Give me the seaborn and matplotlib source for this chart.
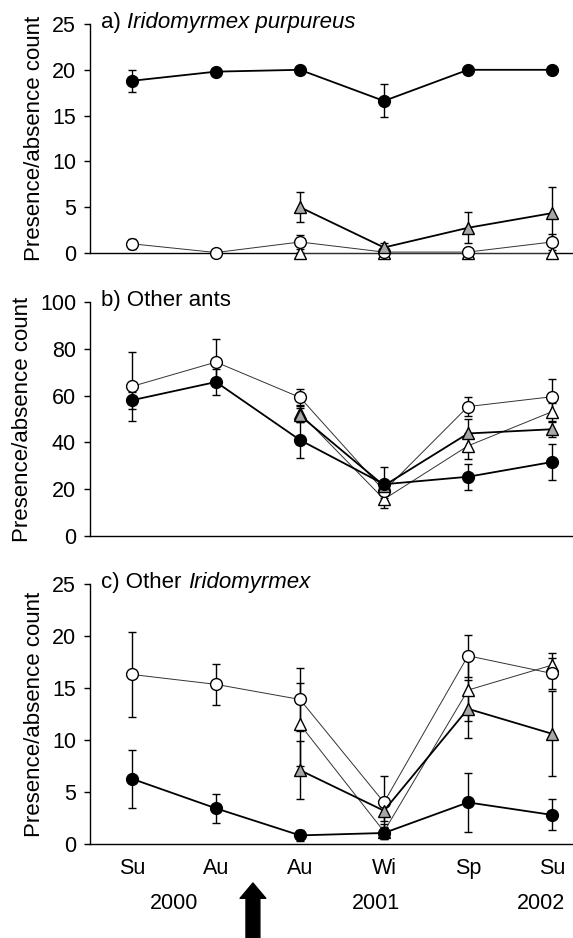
import numpy as np
import pandas as pd
import seaborn as sns
import matplotlib.pyplot as plt
from matplotlib.transforms import blended_transform_factory

sns.set_style("ticks")
plt.rcParams["font.family"] = ["Liberation Sans", "DejaVu Sans"]
plt.rcParams["text.color"] = "black"
plt.rcParams["axes.labelcolor"] = "black"
plt.rcParams["xtick.color"] = "black"
plt.rcParams["ytick.color"] = "black"

# sampling times
seasons = ["Su", "Au", "Au", "Wi", "Sp", "Su"]
times = [1, 2, 3, 4, 5, 6]
years = ["2000", "2001", "2002"]
year_pos = [1.5, 3.9, 5.87]
nan = np.nan

# a) Iridomyrmex purpureus
a_fc = [18.8, 19.8, 20.0, 16.6, 20.0, 20.0]
a_fc_se = [1.2, 0.0, 0.0, 1.8, 0.0, 0.0]
a_oc = [1.0, 0.05, 1.2, 0.1, 0.1, 1.2]
a_oc_se = [0.55, 0.0, 0.8, 0.1, 0.1, 0.85]
a_gt = [nan, nan, 5.0, 0.6, 2.75, 4.35]
a_gt_se = [nan, nan, 1.65, 0.5, 1.7, 2.85]
a_ot = [nan, nan, 0.0, 0.0, 0.0, 0.0]
a_ot_se = [nan, nan, 0.0, 0.0, 0.0, 0.0]

# b) Other ants
b_fc = [58.0, 65.8, 41.0, 22.1, 25.3, 31.6]
b_fc_se = [3.7, 5.5, 7.8, 7.3, 5.5, 7.5]
b_oc = [63.9, 74.3, 59.2, 19.3, 55.3, 59.5]
b_oc_se = [14.8, 10.0, 3.7, 3.0, 4.2, 7.6]
b_gt = [nan, nan, 51.5, 21.5, 43.8, 45.6]
b_gt_se = [nan, nan, 3.0, 2.0, 6.0, 3.2]
b_ot = [nan, nan, 52.5, 15.7, 38.5, 53.1]
b_ot_se = [nan, nan, 3.5, 3.9, 5.6, 3.9]

# c) Other Iridomyrmex
c_fc = [6.27, 3.43, 0.83, 1.06, 4.0, 2.8]
c_fc_se = [2.8, 1.4, 0.5, 0.6, 2.8, 1.5]
c_oc = [16.3, 15.35, 13.9, 4.0, 18.1, 16.4]
c_oc_se = [4.05, 2.0, 3.0, 2.5, 2.0, 1.5]
c_gt = [nan, nan, 7.1, 3.2, 13.0, 10.6]
c_gt_se = [nan, nan, 2.8, 1.0, 2.8, 4.1]
c_ot = [nan, nan, 11.5, 1.2, 14.8, 17.2]
c_ot_se = [nan, nan, 4.0, 0.7, 3.0, 1.2]

panels = [
    ("a) ", "Iridomyrmex purpureus", 25, 5,
     [a_ot, a_oc, a_gt, a_fc], [a_ot_se, a_oc_se, a_gt_se, a_fc_se]),
    ("b) Other ants", "", 100, 20,
     [b_ot, b_oc, b_gt, b_fc], [b_ot_se, b_oc_se, b_gt_se, b_fc_se]),
    ("c) Other ", "Iridomyrmex", 25, 5,
     [c_ot, c_oc, c_gt, c_fc], [c_ot_se, c_oc_se, c_gt_se, c_fc_se]),
]

# open triangle, open circle, grey triangle, filled circle
styles = [
    dict(marker="^", mfc="white", lw=0.7, lc="#333333", ms=9),
    dict(marker="o", mfc="white", lw=0.7, lc="#333333", ms=8.5),
    dict(marker="^", mfc="#a8a8a8", lw=1.3, lc="black", ms=9),
    dict(marker="o", mfc="black", lw=1.3, lc="black", ms=8.5),
]

fig = plt.figure(figsize=(5.73, 9.38), dpi=100)
boxes = [[0.157, 0.7303, 0.843, 0.2441],
         [0.157, 0.4286, 0.843, 0.2495],
         [0.157, 0.1002, 0.843, 0.2772]]

for box, (lab, ital, ymax, step, series, errs) in zip(boxes, panels):
    ax = fig.add_axes(box)
    for vals, se, st in zip(series, errs, styles):
        df = pd.DataFrame({"time": times, "count": vals, "se": se}).dropna()
        ax.errorbar(df["time"], df["count"], yerr=df["se"], fmt="none",
                    ecolor="black", elinewidth=1.0, capsize=3.2, capthick=1.0,
                    zorder=2, clip_on=False)
        sns.lineplot(data=df, x="time", y="count", ax=ax, estimator=None,
                     errorbar=None, color=st["lc"], linewidth=st["lw"],
                     marker=st["marker"], markersize=st["ms"],
                     markerfacecolor=st["mfc"], markeredgecolor="black",
                     markeredgewidth=1.0, zorder=3, clip_on=False)
    ax.set_xlim(0.5, 6.25)
    ax.set_ylim(0, ymax)
    ax.set_yticks(np.arange(0, ymax + 1, step))
    ax.set_xticks(times)
    ax.set_xlabel("")
    ax.set_ylabel("Presence/absence count", fontsize=16, labelpad=5)
    ax.tick_params(axis="y", length=4, width=1, pad=6, labelsize=15.5)
    ax.tick_params(axis="x", length=0, pad=10, labelsize=15.5)
    for s in ["top", "right"]:
        ax.spines[s].set_visible(False)
    for s in ["left", "bottom"]:
        ax.spines[s].set_linewidth(1.0)
        ax.spines[s].set_color("black")
    t = ax.text(0.0235, 1.005, lab, transform=ax.transAxes, fontsize=16,
                ha="left", va="center")
    if ital:
        fig.canvas.draw()
        bb = t.get_window_extent()
        x1 = ax.transAxes.inverted().transform((bb.x1, bb.y0))[0]
        ax.text(x1, 1.005, ital, transform=ax.transAxes, fontsize=16,
                style="italic", ha="left", va="center")
    last = ax

last.set_xticklabels(seasons)
trans = blended_transform_factory(last.transData, fig.transFigure)
for yr, xp in zip(years, year_pos):
    last.text(xp, 1 - 903 / 938, yr, transform=trans, fontsize=15.5,
              ha="center", va="center")
last.annotate("", xy=(2.44, 1 - 883 / 938), xytext=(2.44, -0.01),
              xycoords=trans, textcoords=trans, annotation_clip=False,
              arrowprops=dict(facecolor="black", edgecolor="black",
                              width=10, headwidth=18.5, headlength=11))

for a in fig.axes[:2]:
    a.set_xticklabels([])

fig.savefig("out.png", dpi=100)
